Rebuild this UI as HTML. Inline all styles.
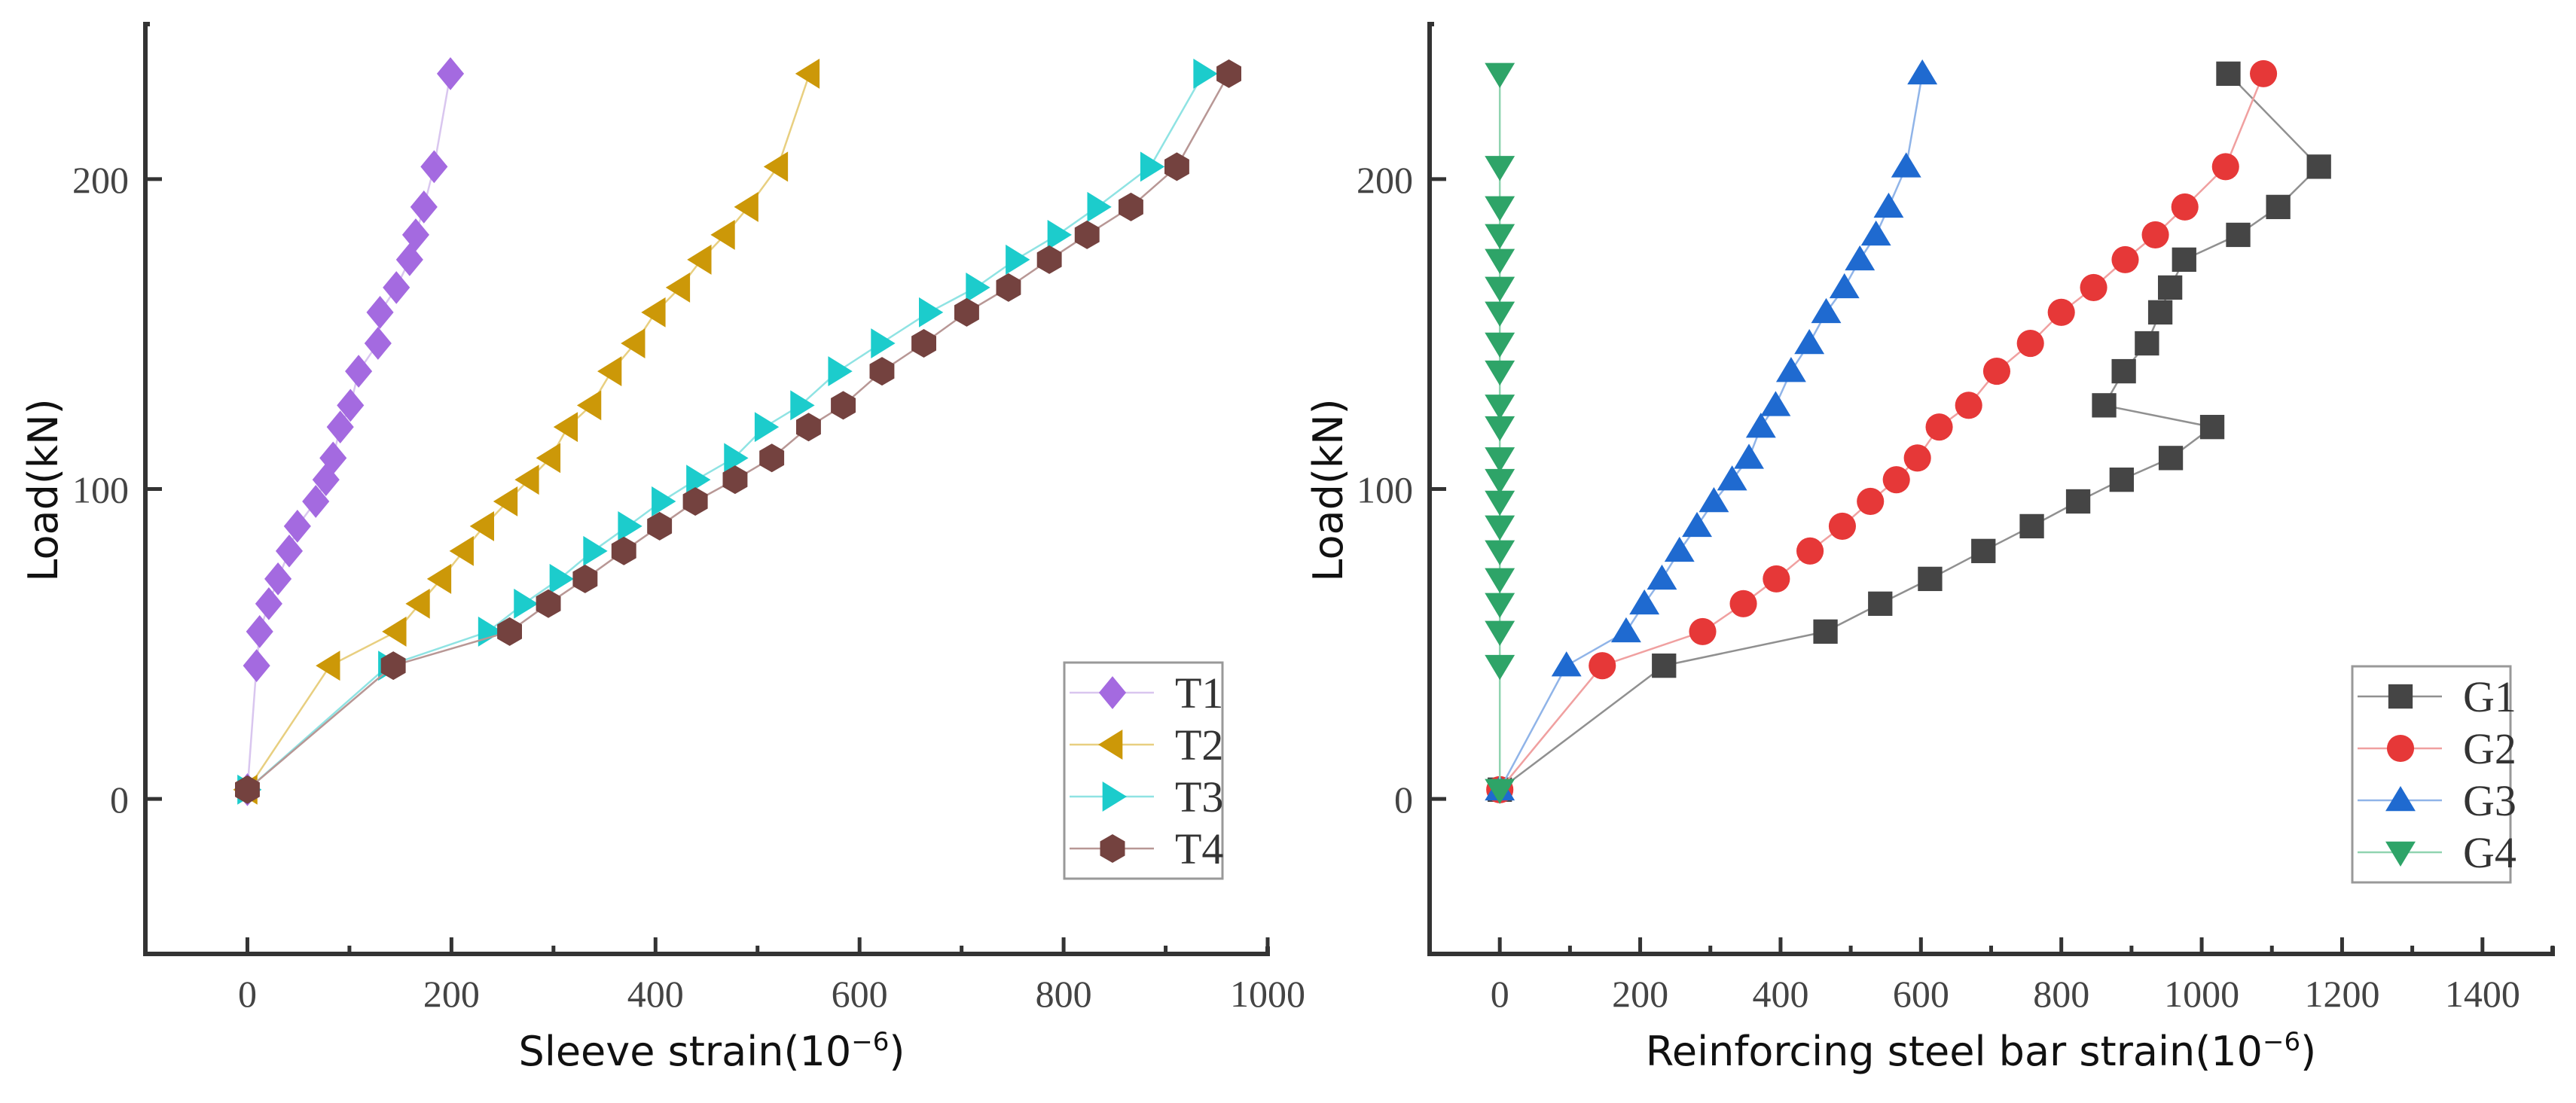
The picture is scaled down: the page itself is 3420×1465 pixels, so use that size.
<!DOCTYPE html>
<html><head><meta charset="utf-8"><style>
html,body{margin:0;padding:0;background:#fff;}
svg{display:block;}
.tick{font-family:"Liberation Serif",serif;font-size:50px;fill:#444;}
.title{font-family:"DejaVu Sans","Liberation Sans",sans-serif;font-size:54px;fill:#111;}
.leg{font-family:"Liberation Serif",serif;font-size:58px;fill:#333;}
</style></head><body>
<svg id="chart" width="3420" height="1465" viewBox="0 0 3420 1465" xmlns="http://www.w3.org/2000/svg">
<g id="left"></g>
<g id="right"></g>
</svg>
<script>
// Load levels (kN)
const loadsT = [3,43,54,63,71,80,88,96,103,110,120,127,138,147,157,165,174,182,191,204,234];
const T1 = [0,9,12,21,30,41,49,67,77,84,91,101,109,128,130,146,159,165,173,183,199];
const T2 = [0,81,146,169,190,212,232,255,276,297,314,337,357,380,400,424,445,468,491,520,551];
const T3 = [0,138,236,271,306,339,373,406,440,477,507,542,579,621,668,714,753,794,833,885,937];
const T4 = [0,143,257,295,331,369,404,439,478,514,550,584,622,663,705,746,786,823,866,911,962];
const loadsG = [3,43,54,63,71,80,88,96,103,110,120,127,138,147,157,165,174,182,191,204,234];
const G1 = [0,234,464,542,613,689,758,824,886,956,1015,861,889,922,941,955,975,1052,1109,1167,1038];
const G2 = [0,146,289,347,394,442,488,528,565,595,626,668,708,756,800,846,891,934,976,1034,1088];
const G3 = [0,95,180,206,231,256,281,305,331,355,372,393,415,441,465,491,513,536,554,579,602];
const G4 = [0,0,0,0,0,0,0,0,0,0,0,0,0,0,0,0,0,0,0,0,0];
const leftXTicks = [0,200,400,600,800,1000];
const rightXTicks = [0,200,400,600,800,1000,1200,1400];
const yTicks = [0,100,200];
const leftNames = ['T1','T2','T3','T4'];
const rightNames = ['G1','G2','G3','G4'];

const NS='http://www.w3.org/2000/svg';
function mk(parent,tag,attrs){const e=document.createElementNS(NS,tag);for(const k in attrs)e.setAttribute(k,attrs[k]);parent.appendChild(e);return e;}

function marker(g,shape,cx,cy,fill,r){
  let e;
  if(shape==='diamond'){e=mk(g,'polygon',{points:`${cx},${cy-r*1.15} ${cx+r*0.95},${cy} ${cx},${cy+r*1.15} ${cx-r*0.95},${cy}`,fill:fill});}
  else if(shape==='left'){e=mk(g,'polygon',{points:`${cx-r},${cy} ${cx+r*0.7},${cy-r*1.05} ${cx+r*0.7},${cy+r*1.05}`,fill:fill});}
  else if(shape==='right'){e=mk(g,'polygon',{points:`${cx+r},${cy} ${cx-r*0.7},${cy-r*1.05} ${cx-r*0.7},${cy+r*1.05}`,fill:fill});}
  else if(shape==='hex'){let p=[];for(let i=0;i<6;i++){const a=Math.PI/6+i*Math.PI/3;p.push((cx+r*Math.cos(a)).toFixed(1)+','+(cy+r*Math.sin(a)).toFixed(1));}e=mk(g,'polygon',{points:p.join(' '),fill:fill});}
  else if(shape==='square'){e=mk(g,'rect',{x:cx-r*0.85,y:cy-r*0.85,width:r*1.7,height:r*1.7,fill:fill});}
  else if(shape==='circle'){e=mk(g,'circle',{cx:cx,cy:cy,r:r*0.95,fill:fill});}
  else if(shape==='up'){e=mk(g,'polygon',{points:`${cx},${cy-r} ${cx+r*1.05},${cy+r*0.75} ${cx-r*1.05},${cy+r*0.75}`,fill:fill});}
  else if(shape==='down'){e=mk(g,'polygon',{points:`${cx},${cy+r} ${cx+r*1.05},${cy-r*0.75} ${cx-r*1.05},${cy-r*0.75}`,fill:fill});}
  return e;
}

function panel(g,cfg){
  const {x0,x1,xmin,xmax,y0,y1,ymin,ymax}=cfg;
  const sx=v=>x0+(v-xmin)/(xmax-xmin)*(x1-x0);
  const sy=v=>y0-(v-ymin)/(ymax-ymin)*(y0-y1);
  cfg.series.forEach((s,si)=>{
    const sg=mk(g,'g',{});
    
    
    const pts=s.x.map((v,i)=>sx(v).toFixed(1)+','+sy(s.y[i]).toFixed(1)).join(' ');
    const pl=mk(sg,'polyline',{points:pts,fill:'none',stroke:s.line,'stroke-width':2.5});
    
    
    s.x.forEach((v,i)=>{
      const m=marker(sg,s.shape,sx(v),sy(s.y[i]),s.color,19);
      
      
    });
  });
  const ax=mk(g,'g',{});
  
  
  mk(ax,'path',{d:`M${x0+6},${y1} L${x0},${y1} L${x0},${y0} L${x1},${y0} L${x1},${y0-10}`,fill:'none',stroke:'#333','stroke-width':6});
  for(let v=xmin+100; v<=xmax; v+=100){
    const major=cfg.xticks.includes(v);
    mk(ax,'line',{x1:sx(v),y1:y0,x2:sx(v),y2:y0-(major?22:11),stroke:'#333','stroke-width':5});
  }
  cfg.xticks.forEach(v=>{
    const t=mk(ax,'text',{x:sx(v),y:y0+70,'text-anchor':'middle',class:'tick'});
    t.textContent=v;
    
    
  });
  yTicks.forEach(v=>{
    mk(ax,'line',{x1:x0,y1:sy(v),x2:x0+22,y2:sy(v),stroke:'#333','stroke-width':5});
    const t=mk(ax,'text',{x:x0-22,y:sy(v)+18,'text-anchor':'end',class:'tick'});
    t.textContent=v;
    
    
  });
  const xt=mk(g,'text',{x:cfg.xtitleX,y:1415,'text-anchor':'middle',class:'title'});
  xt.innerHTML=cfg.xtitle+'(10<tspan baseline-shift="super" font-size="34">−6</tspan>)';
  
  
  const yt=mk(g,'text',{x:0,y:0,'text-anchor':'middle',class:'title',transform:`translate(${cfg.ytitleX},651) rotate(-90)`});
  yt.textContent='Load(kN)';
  
  
  const lg=mk(g,'g',{});
  
  
  const L=cfg.legend;
  mk(lg,'rect',{x:L.x,y:L.y,width:210,height:287,fill:'#fff',stroke:'#999','stroke-width':3});
  cfg.series.forEach((s,i)=>{
    const ey=L.y+40+i*69;
    const eg=mk(lg,'g',{});
    
    
    mk(eg,'line',{x1:L.x+7,y1:ey,x2:L.x+119,y2:ey,stroke:s.line,'stroke-width':2.5});
    marker(eg,s.shape,L.x+64,ey,s.color,19);
    const t=mk(eg,'text',{x:L.x+147,y:ey+20,class:'leg'});
    t.textContent=s.name;
  });
}

panel(document.getElementById('left'),{
  x0:193,x1:1683,xmin:-100,xmax:1000,y0:1267,y1:32,ymin:-50,ymax:250,
  xticks:leftXTicks,xtitle:'Sleeve strain',xtitleX:945,ytitleX:76,
  legend:{x:1413,y:880},
  series:[
    {name:leftNames[0],x:T1,y:loadsT,color:'#a46ae0',line:'#d9c6ef',shape:'diamond'},
    {name:leftNames[1],x:T2,y:loadsT,color:'#cc9808',line:'#e8cf80',shape:'left'},
    {name:leftNames[2],x:T3,y:loadsT,color:'#1ccccc',line:'#8fe3e3',shape:'right'},
    {name:leftNames[3],x:T4,y:loadsT,color:'#74423f',line:'#b89795',shape:'hex'}
  ]
});
panel(document.getElementById('right'),{
  x0:1898,x1:3389,xmin:-100,xmax:1500,y0:1267,y1:32,ymin:-50,ymax:250,
  xticks:rightXTicks,xtitle:'Reinforcing steel bar strain',xtitleX:2630,ytitleX:1782,
  legend:{x:3123,y:885},
  series:[
    {name:rightNames[0],x:G1,y:loadsG,color:'#454545',line:'#909090',shape:'square'},
    {name:rightNames[1],x:G2,y:loadsG,color:'#e63838',line:'#f0a0a0',shape:'circle'},
    {name:rightNames[2],x:G3,y:loadsG,color:'#1f6ad0',line:'#90b4e8',shape:'up'},
    {name:rightNames[3],x:G4,y:loadsG,color:'#2ea468',line:'#90d4b0',shape:'down'}
  ]
});
</script>
</body></html>
